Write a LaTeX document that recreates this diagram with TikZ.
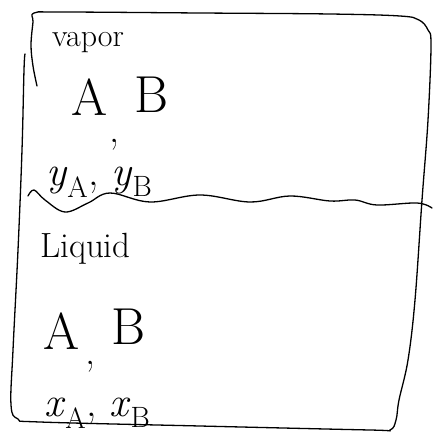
\documentclass[tikz,border=0pt]{standalone}
\usepackage{amsmath}
\usepackage{tikz}

\begin{document}
\begin{tikzpicture}[
  x=1pt, y=-1pt,
  sketch/.style={line width=1.3pt, line cap=round, line join=round},
  every node/.style={inner sep=0pt},
  word/.style={font=\fontsize{32}{34}\selectfont},
  letter/.style={font=\fontsize{52}{54}\selectfont},
  sep/.style={font=\fontsize{40}{42}\selectfont},
  frac/.style={font=\fontsize{42}{44}\selectfont}
]
\useasboundingbox (0,0) rectangle (432,433);
% vessel outline, drawn in one stroke
\draw[sketch] plot[smooth, tension=0.6] coordinates {
  (37,86) (33,66) (31,45) (33,22) (34,13) (60,12) (200,13) (330,14)
  (400,16) (419,20) (428,30) (431,45) (428,120) (422,200) (415,300)
  (408,360) (399,400) (396,420) (390,430) (370,430) (200,426) (40,422)
  (18,419) (11,405) (13,350) (18,250) (22,150) (24,70) (25,54)};
% vapor / liquid interface
\draw[sketch] plot[smooth, tension=0.6] coordinates {
  (28,196) (34,190) (45,200) (65,212) (88,203) (110,193) (150,202)
  (200,195) (250,202) (290,196) (330,201) (355,200) (377,205)
  (417,203) (432,208)};
% vapor phase
\node[word, anchor=base west] (vapor) at (52,47) {vapor};
\node[letter, anchor=base] (vapA) at (90,115) {A};
\node[letter, anchor=base] (vapB) at (152,113) {B};
\node[sep] (vapsep) at (114,145) {,};
\node[frac, anchor=base west] (yfrac) at (46,185) {\textit{y}\textsubscript{A}, \textit{y}\textsubscript{B}};
% liquid phase
\node[word, font=\fontsize{35}{37}\selectfont, anchor=base west] (liquid) at (40,257) {Liquid};
\node[letter, anchor=base] (liqA) at (62,349) {A};
\node[letter, anchor=base] (liqB) at (129,344) {B};
\node[sep] (liqsep) at (90,367) {,};
\node[frac, anchor=base west] (xfrac) at (44,416) {\textit{x}\textsubscript{A}, \textit{x}\textsubscript{B}};
\end{tikzpicture}
\end{document}
